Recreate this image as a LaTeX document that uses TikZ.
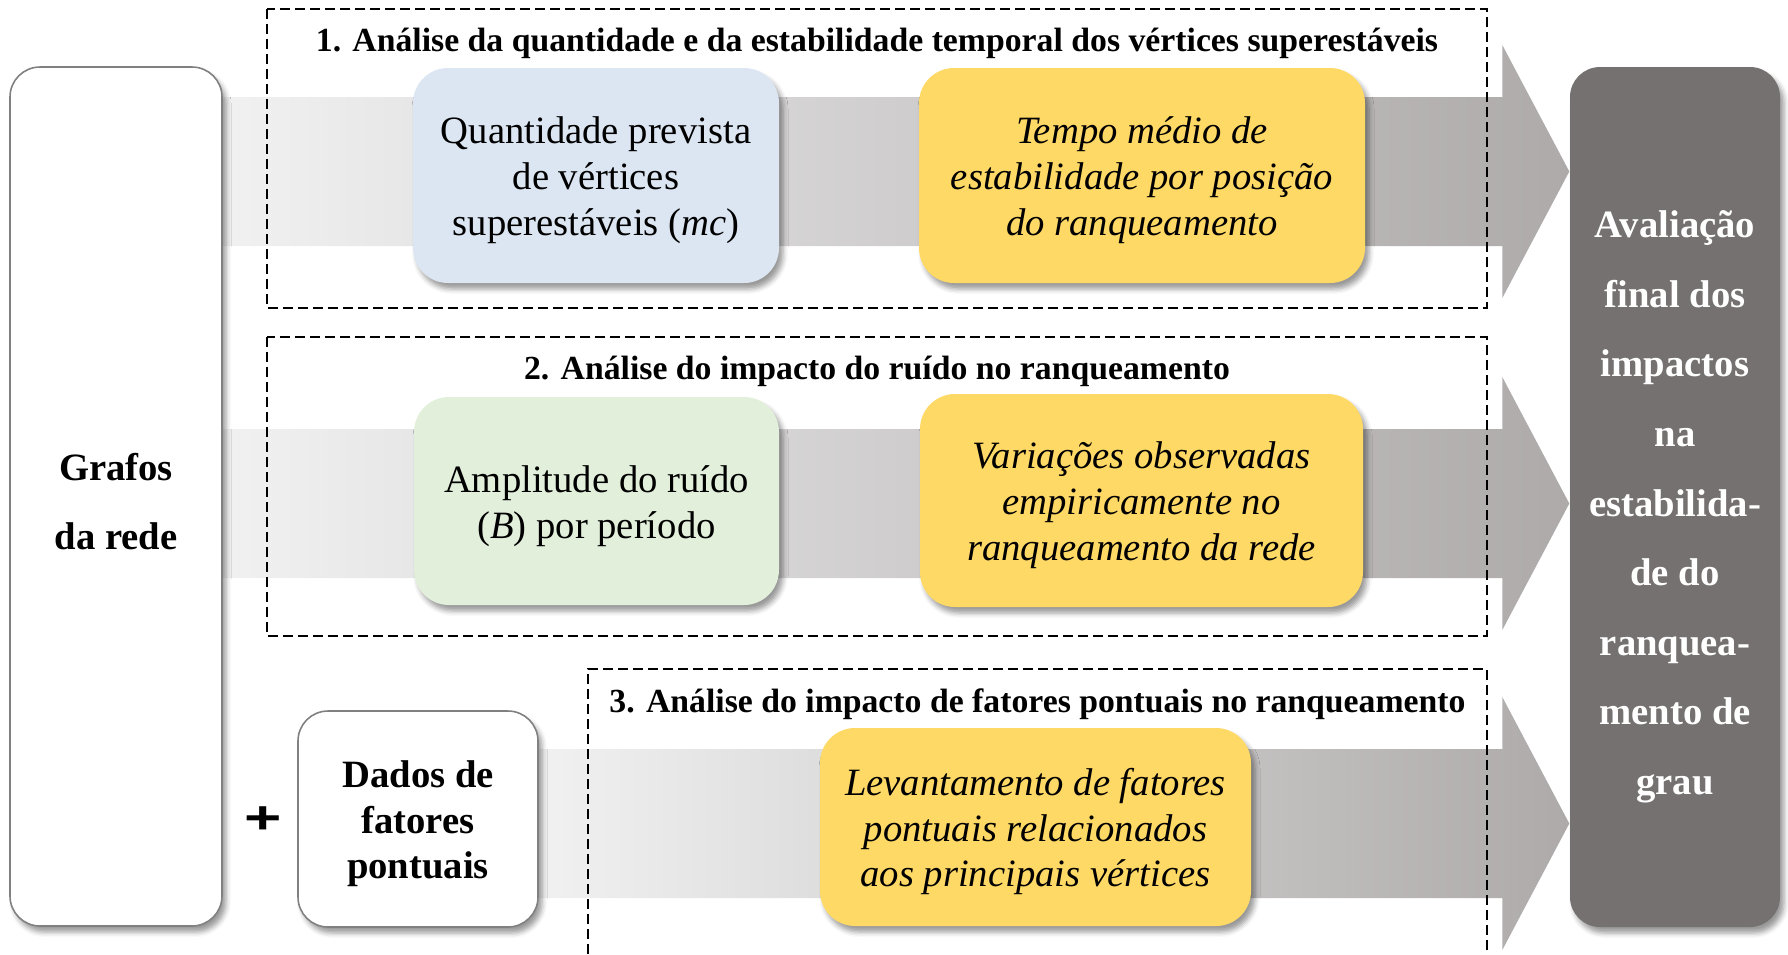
\documentclass[tikz,border=0pt]{standalone}
\usepackage{fontspec}
\setmainfont{Liberation Serif}
\setsansfont{Liberation Sans}
\usepackage{graphicx}
\usepackage{tikz}
\usetikzlibrary{calc,backgrounds,shadows.blur}
\definecolor{paleblue}{RGB}{220,230,242}
\definecolor{palegreen}{RGB}{226,239,218}
\definecolor{gold}{RGB}{255,217,102}
\definecolor{slate}{RGB}{118,113,113}
\definecolor{bandlight}{RGB}{241,241,241}
\definecolor{banddark}{RGB}{174,170,170}
\definecolor{rim}{RGB}{128,128,128}
\tikzset{%
    stage/.style={%
        rounded corners=3.5mm, inner sep=0pt, align=center, text height=36.4pt,
        font=\fontsize{11}{13}\selectfont,
        blur shadow={shadow xshift=0.4mm, shadow yshift=-0.6mm, shadow blur radius=0.5mm}
    },
    result/.style={stage, fill=gold, font=\fontsize{11}{13}\selectfont\itshape},
    source/.style={stage, draw=rim, line width=0.45pt, fill=white, rounded corners=3mm,
        font=\fontsize{11}{13}\selectfont\bfseries},
    heading/.style={font=\fontsize{9.6}{11}\selectfont\bfseries},
    dashbox/.style={line width=0.17mm, dash pattern=on 1mm off 0.5mm},
    band/.style={left color=bandlight, right color=banddark}
}

\begin{document}
\begin{tikzpicture}[x=0.1mm, y=-0.1mm]
    \useasboundingbox (0,0) rectangle (1788,954);
    \node[source, minimum width=21.2mm, minimum height=85.9mm, text height=30pt,
        font=\fontsize{11}{19.4}\selectfont\bfseries] (grafos) at (116,496.5) {Grafos\\da rede};
    \node[source, minimum width=24mm, minimum height=21.6mm, text height=36.3pt] (dados) at (418,819)
        {Dados de\\fatores\\pontuais};
    \node[font=\fontsize{13}{13}\selectfont\sffamily\bfseries] (plus) at (263,820) {\scalebox{1.4}[1]{+}};
    \node[stage, fill=slate, text=white, rounded corners=3mm, minimum width=21mm, minimum height=86mm,
        text height=171.7pt, font=\fontsize{11}{19.8}\selectfont\bfseries] (final) at (1675,497)
        {Avaliação\\final dos\\impactos\\na\\estabilida-\\de do\\ranquea-\\mento de\\grau};

    \node[stage, fill=paleblue, minimum width=36.6mm, minimum height=21.5mm] (quant) at (596,175.5)
        {Quantidade prevista\\de vértices\\superestáveis (\textit{mc})};
    \node[result, minimum width=44.6mm, minimum height=21.5mm] (tempo) at (1142,175.5)
        {Tempo médio de\\estabilidade por posição\\do ranqueamento};
    \node[stage, fill=palegreen, minimum width=36.5mm, minimum height=20.8mm, text height=23.4pt] (ampl)
        at (596.5,501) {Amplitude do ruído\\(\textit{B}) por período};
    \node[result, minimum width=44.3mm, minimum height=21.3mm] (variac) at (1141.5,500.5)
        {Variações observadas\\empiricamente no\\ranqueamento da rede};
    \node[result, minimum width=43.1mm, minimum height=19.8mm] (levant) at (1035.5,827)
        {Levantamento de fatores\\pontuais relacionados\\aos principais vértices};

    \begin{scope}[on background layer]
        \foreach \src/\y [count=\i] in {grafos/171.5, grafos/503.5, dados/823.5}{
            \coordinate (tip\i) at (final.west |- 0,\y);
            \shade[band] ($(\src.east |- 0,\y)+(0,-74.5)$) -- ($(tip\i)+(-67,-74.5)$)
                -- ($(tip\i)+(-67,-126.5)$) -- (tip\i) -- ($(tip\i)+(-67,126.5)$)
                -- ($(tip\i)+(-67,74.5)$) -- ($(\src.east |- 0,\y)+(0,74.5)$) -- cycle;
        }
    \end{scope}

    \draw[dashbox] (267,9) rectangle (1487,308);
    \draw[dashbox] (267,337) rectangle (1487,636);
    \draw[dashbox] (588,954) |- (1487,669) -- (1487,954);
    \node[heading] (title1) at (877,43) {1. Análise da quantidade e da estabilidade temporal dos vértices superestáveis};
    \node[heading] (title2) at (877,371) {2. Análise do impacto do ruído no ranqueamento};
    \node[heading] (title3) at (1037.5,704) {3. Análise do impacto de fatores pontuais no ranqueamento};
\end{tikzpicture}
\end{document}
